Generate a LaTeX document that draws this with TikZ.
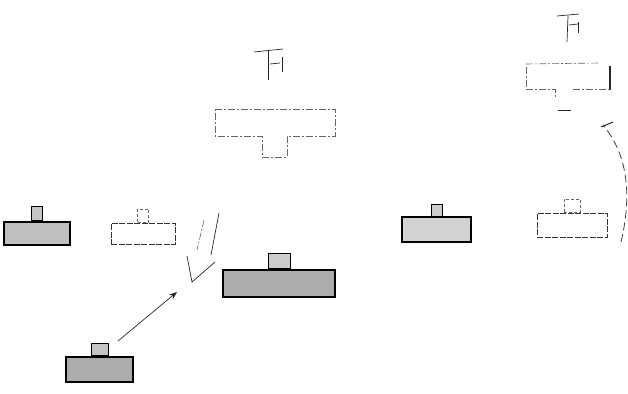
\documentclass[tikz,border=0pt]{standalone}
\usetikzlibrary{arrows.meta}
\begin{document}
\begin{tikzpicture}[x=1pt,y=-1pt,
  ink/.style={draw=black!85,line width=0.7pt},
  faint/.style={draw=black!60,line width=0.6pt,dash pattern=on 7pt off 2pt on 2pt off 2pt},
  darkbox/.style={draw=black,line width=1.3pt,fill=gray!60,rectangle,inner sep=0pt},
  midbox/.style={draw=black,line width=1.2pt,fill=gray!35,rectangle,inner sep=0pt},
  lightbox/.style={draw=black!80,line width=0.8pt,dash pattern=on 6pt off 1.5pt,fill=white,rectangle,inner sep=0pt},
  tab/.style={draw=black,line width=0.9pt,fill=gray!45,rectangle,inner sep=0pt},
  lighttab/.style={draw=black!60,line width=0.6pt,densely dashed,fill=white,rectangle,inner sep=0pt}]
\useasboundingbox (0,0) rectangle (628,393);

% ---- glyphs ----
\draw[ink] (254,52) -- (283,49);
\draw[ink] (268,51) -- (268,80);
\draw[ink] (270,64) -- (280,63);
\draw[ink] (282,57) -- (282,72);

\draw[ink] (557,16) -- (579,14);
\draw[ink] (568,16) -- (567,42);
\draw[ink] (569,25) -- (578,24);
\draw[ink] (578,22) -- (578,33);

% ---- T box (centre) ----
\draw[faint] (215,109) -- (335,109) -- (335,136) -- (287,136) -- (287,157)
  -- (262,157) -- (262,136) -- (215,136) -- cycle;

% ---- top-right T box ----
\draw[faint] (526,64) -- (600,63);
\draw[ink,line width=1.2pt] (610,66) -- (610,90);
\draw[faint] (526,67) -- (526,88);
\draw[faint] (526,89) -- (555,89) -- (555,97);
\draw[faint] (573,89) -- (610,89);
\draw[ink] (558,110) -- (571,110);

% ---- left row ----
\node[darkbox,fill=gray!50,minimum width=66pt,minimum height=23pt] (b1) at (37,233.5) {};
\node[tab,minimum width=11pt,minimum height=14pt,anchor=south] (t1) at (b1.north) {};
\node[lightbox,minimum width=64pt,minimum height=21pt] (b2) at (143,233.5) {};
\node[lighttab,minimum width=11pt,minimum height=13pt,anchor=south] (t2) at (b2.north) {};

% ---- dark box centre ----
\node[darkbox,fill=gray!65,minimum width=112pt,minimum height=27pt] (b3) at (279,283.5) {};
\node[tab,fill=gray!40,minimum width=22pt,minimum height=15pt,anchor=south] (t3) at (b3.north) {};

% ---- bottom-left box ----
\node[darkbox,fill=gray!65,minimum width=67pt,minimum height=25pt] (b4) at (99.5,369.5) {};
\node[tab,minimum width=17pt,minimum height=12pt,anchor=south] (t4) at (b4.north) {};

% ---- right row ----
\node[midbox,minimum width=69pt,minimum height=25pt] (b5) at (436.5,229.5) {};
\node[tab,fill=gray!40,minimum width=11pt,minimum height=12pt,anchor=south] (t5) at (b5.north) {};
\node[lightbox,minimum width=70pt,minimum height=24pt] (b6) at (572,225) {};
\node[lighttab,minimum width=16pt,minimum height=13pt,anchor=south] (t6) at (b6.north) {};

% ---- hollow arrow pointing down-left ----
\coordinate (ha1) at (219,213);
\coordinate (ha2) at (204,220);
\coordinate (hl) at (187,256);
\coordinate (htip) at (192,282);
\coordinate (hr) at (215,262);
\draw[ink] (ha1) -- (211,255);
\draw[faint] (ha2) -- (197,250);
\draw[ink] (hl) -- (htip) -- (hr);

% ---- arrow from bottom-left box ----
\coordinate (aend) at (177,292);
\draw[ink,-{Stealth[length=8pt,width=6pt]}] (118,341) -- (aend);

% ---- curved arrow on the right ----
\coordinate (cstart) at (621,242);
\coordinate (cend) at (603,125);
\draw[draw=black!75,line width=0.8pt,dash pattern=on 8pt off 4pt] (cstart) .. controls (632,195) and (628,155) .. (cend);
\draw[ink,line width=1pt] (601,127) -- (613,122);
\end{tikzpicture}
\end{document}
